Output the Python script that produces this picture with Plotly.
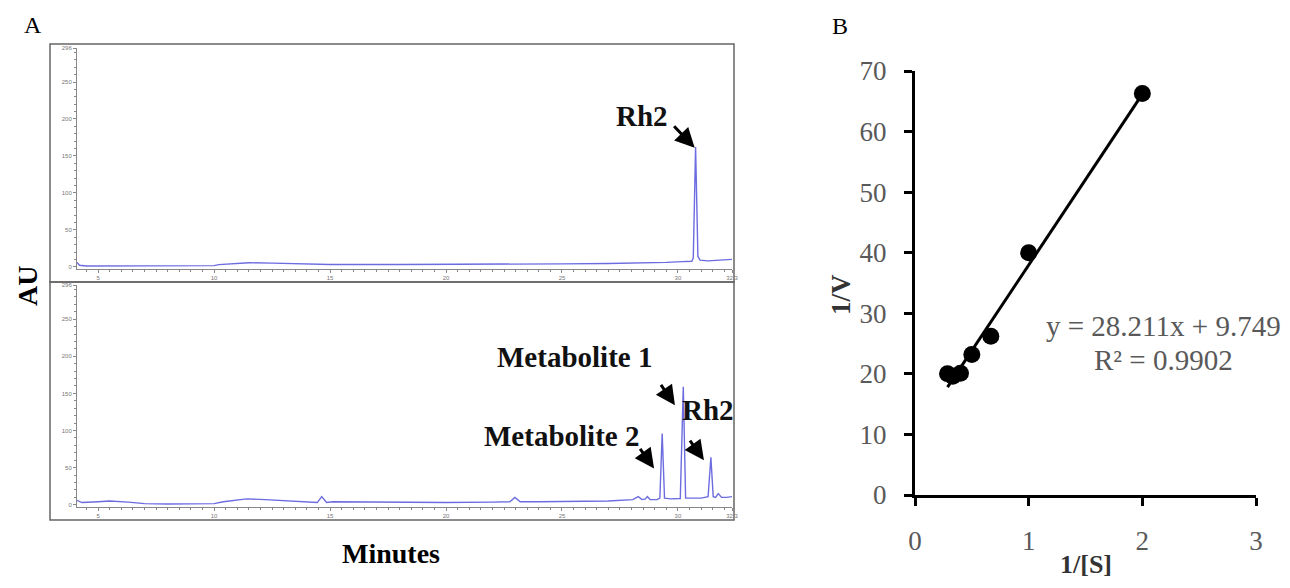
import plotly.graph_objects as go

# page body keeps an 8 px margin, so the figure is drawn 16 px smaller and offset by 8 px
PAD = 8
W, H = 1290 - 2 * PAD, 588 - 2 * PAD


def fx(px):
    return (px - PAD) / W


def fy(py):
    return 1 - (py - PAD) / H


# ---------------- data ----------------
# Panel A, top chromatogram (Rh2 standard)
top_time = [4.09, 4.2, 4.5, 6.0, 8.0, 10.0, 10.2, 11.0, 11.5, 12.5, 13.5, 15.0, 18.0, 20.0,
            23.0, 25.0, 27.0, 28.5, 29.5, 30.2, 30.6, 30.66, 30.76, 30.86, 30.95, 31.3, 32.0, 32.33]
top_au = [6, 2, 1, 1, 1, 1.5, 3, 4, 5.5, 5, 4, 3, 3, 3,
          3.5, 4, 4.5, 5, 6, 7, 7.5, 12, 162, 14, 9, 8, 9, 10]

# Panel A, bottom chromatogram (after metabolism)
bot_time = [4.09, 4.3, 5.0, 5.5, 6.3, 7.0, 8.0, 9.5, 10.0, 10.4, 11.4, 12.2, 13.0, 14.2, 14.45,
            14.64, 14.85, 15.1, 17.0, 20.0, 22.0, 22.75, 22.97, 23.2, 24.0, 25.0, 27.0, 28.05,
            28.29, 28.45, 28.6, 28.68, 28.8, 29.1, 29.22, 29.32, 29.42, 29.7, 30.1, 30.23, 30.33,
            30.6, 31.0, 31.3, 31.42, 31.52, 31.62, 31.74, 31.88, 32.1, 32.33]
bot_au = [6, 3, 4, 5, 3.5, 1.5, 1, 1, 1.5, 4, 8, 7, 5.5, 4, 3,
          11, 3, 4, 3.5, 3, 3.5, 4, 10, 4, 4, 4, 5, 7,
          11, 7, 8, 11, 7, 7, 9, 96, 9, 8, 8.5, 159, 9,
          9, 9, 11, 64, 11, 10, 15, 10, 10, 11]

x_tickvals = [5, 10, 15, 20, 25, 30, 32.33]
x_ticktext = ["5", "10", "15", "20", "25", "30", "32.3"]
y_tickvals = [0, 50, 100, 150, 200, 250, 296]
y_ticktext = ["0", "50", "100", "150", "200", "250", "296"]

# Panel B, Lineweaver-Burk
inv_s = [2.0, 1.0, 0.667, 0.5, 0.4, 0.333, 0.286]
inv_v = [66.3, 40.0, 26.2, 23.2, 20.1, 19.6, 20.0]
slope = 28.211
intercept = 9.749
r_squared = 0.9902

# ---------------- figure ----------------
fig = go.Figure()

trace_color = "#6c6ce0"
fig.add_trace(go.Scatter(x=top_time, y=top_au, mode="lines",
                         line=dict(color=trace_color, width=1.4),
                         xaxis="x", yaxis="y", showlegend=False))
fig.add_trace(go.Scatter(x=bot_time, y=bot_au, mode="lines",
                         line=dict(color=trace_color, width=1.4),
                         xaxis="x2", yaxis="y2", showlegend=False))

fit_x = [min(inv_s), max(inv_s)]
fit_y = [slope * v + intercept for v in fit_x]
fig.add_trace(go.Scatter(x=fit_x, y=fit_y, mode="lines",
                         line=dict(color="black", width=3),
                         xaxis="x3", yaxis="y3", showlegend=False))
fig.add_trace(go.Scatter(x=inv_s, y=inv_v, mode="markers",
                         marker=dict(color="black", size=17),
                         xaxis="x3", yaxis="y3", showlegend=False, cliponaxis=False))

gray = "#888888"
small = dict(family="Liberation Sans", size=6, color="#777777")


def chrom_x(domain_anchor):
    return dict(domain=[fx(77), fx(732)], range=[4.09, 32.33], anchor=domain_anchor,
                automargin=False,
                showline=True, linecolor=gray, linewidth=1, ticks="outside", ticklen=3,
                tickcolor=gray, tickvals=x_tickvals, ticktext=x_ticktext, tickfont=small,
                showgrid=False, zeroline=False,
                minor=dict(ticks="outside", dtick=0.5, ticklen=2, tickcolor=gray))


def chrom_y(domain, anchor):
    return dict(domain=domain, range=[-3, 296], anchor=anchor,
                automargin=False,
                showline=True, linecolor=gray, linewidth=1, ticks="outside", ticklen=3,
                tickcolor=gray, tickvals=y_tickvals, ticktext=y_ticktext, tickfont=small,
                showgrid=False, zeroline=False,
                minor=dict(ticks="outside", dtick=10, ticklen=2, tickcolor=gray))


serif = "Liberation Serif"
tick_b = dict(family=serif, size=27, color="#595959")

fig.update_layout(
    width=W, height=H,
    margin=dict(l=0, r=0, t=0, b=0, autoexpand=False),
    paper_bgcolor="white", plot_bgcolor="white",
    xaxis=chrom_x("y"),
    yaxis=chrom_y([fy(269), fy(48)], "x"),
    xaxis2=chrom_x("y2"),
    yaxis2=chrom_y([fy(507), fy(285)], "x2"),
    xaxis3=dict(domain=[fx(915), fx(1256)], range=[0, 3], anchor="y3", automargin=False,
                showline=True, linecolor="black", linewidth=3, ticks="outside",
                ticklen=8, tickwidth=3, tickcolor="black", dtick=1, tickfont=tick_b,
                ticklabelstandoff=12, showgrid=False, zeroline=False),
    yaxis3=dict(domain=[fy(495), fy(71)], range=[0, 70], anchor="x3", automargin=False,
                showline=True, linecolor="black", linewidth=3, ticks="outside",
                ticklen=8, tickwidth=3, tickcolor="black", dtick=10, tickfont=tick_b,
                ticklabelstandoff=12, showgrid=False, zeroline=False),
)

# frames around the chromatograms
for y0, y1 in [(282, 44), (520, 282)]:
    fig.add_shape(type="rect", xref="paper", yref="paper",
                  x0=fx(50), x1=fx(734), y0=fy(y0), y1=fy(y1),
                  line=dict(color="#666666", width=1.5), fillcolor="rgba(0,0,0,0)")

C = dict(xanchor="center", yanchor="middle", showarrow=False)
bold_lbl = dict(family=serif, size=29, color="#111111")
ann = []
# peak labels
ann.append(dict(x=28.45, y=204, xref="x", yref="y", text="<b>Rh2</b>", font=bold_lbl, **C))
ann.append(dict(x=25.52, y=199, xref="x2", yref="y2", text="<b>Metabolite 1</b>", font=bold_lbl, **C))
ann.append(dict(x=24.96, y=92, xref="x2", yref="y2", text="<b>Metabolite 2</b>", font=bold_lbl, **C))
ann.append(dict(x=31.29, y=127, xref="x2", yref="y2", text="<b>Rh2</b>", font=bold_lbl, **C))
# arrows
arrow = dict(text="", showarrow=True, arrowhead=2, arrowsize=1.3, arrowwidth=3,
             arrowcolor="black", standoff=0)
ann.append(dict(x=30.72, y=161, xref="x", yref="y", ax=-22, ay=-23, **arrow))
ann.append(dict(x=28.97, y=49, xref="x2", yref="y2", ax=-15, ay=-21, **arrow))
ann.append(dict(x=29.87, y=134, xref="x2", yref="y2", ax=-15, ay=-22, **arrow))
ann.append(dict(x=31.12, y=60, xref="x2", yref="y2", ax=-15, ay=-21, **arrow))
# equation
eq_font = dict(family=serif, size=29, color="#595959")
ann.append(dict(x=2.19, y=27.9, xref="x3", yref="y3",
                text=f"y = {slope}x + {intercept}", font=eq_font, **C))
ann.append(dict(x=2.19, y=22.3, xref="x3", yref="y3",
                text=f"R² = {r_squared}", font=eq_font, **C))
# panel letters and axis titles
ann.append(dict(x=fx(33), y=fy(25), xref="paper", yref="paper", text="A",
                font=dict(family=serif, size=24, color="black"), **C))
ann.append(dict(x=fx(840), y=fy(26), xref="paper", yref="paper", text="B",
                font=dict(family=serif, size=24, color="black"), **C))
ann.append(dict(x=fx(27), y=fy(286), xref="paper", yref="paper", text="<b>AU</b>",
                textangle=-90, font=dict(family=serif, size=28, color="black"), **C))
ann.append(dict(x=fx(391), y=fy(553), xref="paper", yref="paper", text="<b>Minutes</b>",
                font=dict(family=serif, size=28, color="black"), **C))
ann.append(dict(x=fx(841), y=fy(295), xref="paper", yref="paper", text="<b>1/V</b>",
                textangle=-90, font=dict(family=serif, size=27, color="#333333"), **C))
ann.append(dict(x=fx(1086), y=fy(564), xref="paper", yref="paper", text="<b>1/[S]</b>",
                font=dict(family=serif, size=26, color="#333333"), **C))

fig.update_layout(annotations=ann)

fig.write_html("out.html")
